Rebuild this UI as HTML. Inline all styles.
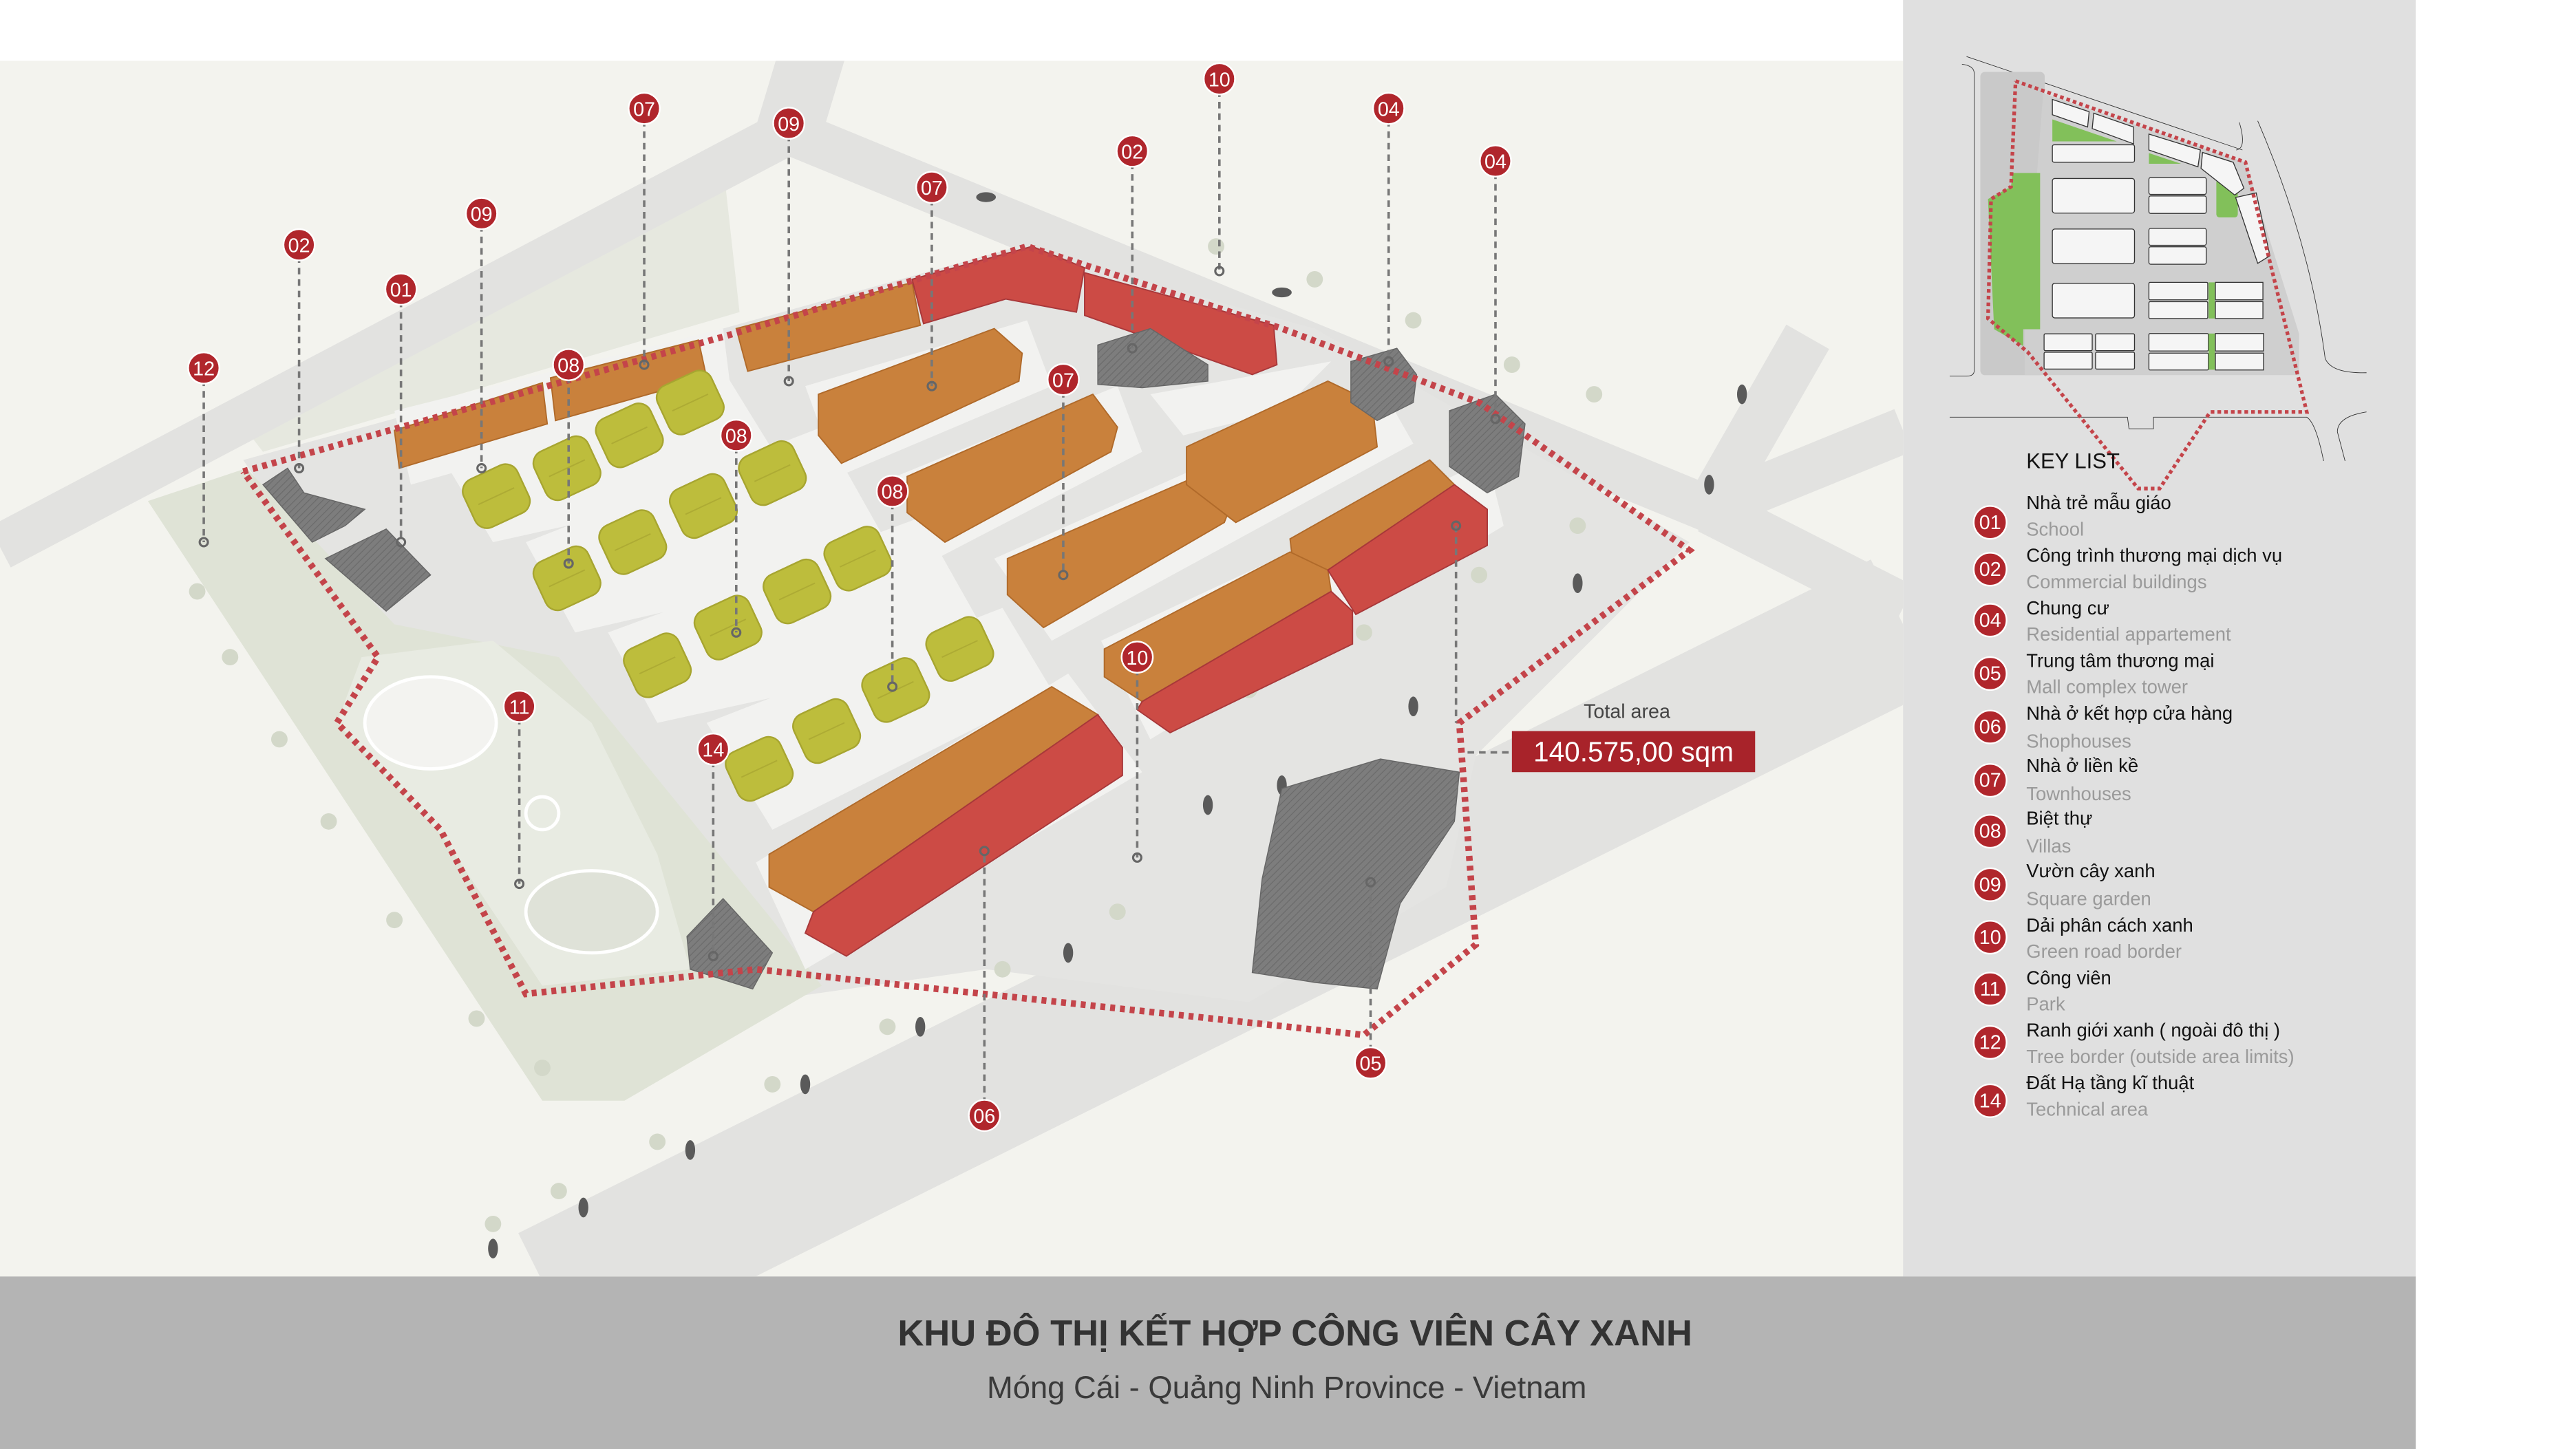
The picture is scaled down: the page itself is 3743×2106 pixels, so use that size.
<!DOCTYPE html>
<html><head><meta charset="utf-8"><style>
html,body{margin:0;padding:0;background:#fff;}
svg{display:block}
text{font-family:"Liberation Sans","Noto Sans CJK SC",sans-serif}
</style></head><body>
<svg width="3743" height="2106" viewBox="0 0 1567.5 882" preserveAspectRatio="none" xmlns="http://www.w3.org/2000/svg">
<defs>
<pattern id="hatch" width="3" height="3" patternUnits="userSpaceOnUse" patternTransform="rotate(45)"><rect width="3" height="3" fill="#7d7d7d"/><line x1="0" y1="0" x2="0" y2="3" stroke="#6a6a6a" stroke-width="1"/></pattern>
<g id="villa"><rect x="-18" y="-16" width="36" height="32" rx="8" fill="#bdbd3c" stroke="#a7a530" stroke-width="1"/><line x1="-12" y1="0" x2="12" y2="0" stroke="#adab34" stroke-width="0.8"/></g>
<clipPath id="mapclip"><rect x="0" y="37" width="1158" height="740"/></clipPath>
</defs>
<rect x="0" y="0" width="1567.5" height="882" fill="#fff"/>
<rect x="0" y="37" width="1158" height="740" fill="#f3f3ee"/>
<rect x="1158" y="0" width="312" height="777" fill="#e0e0e0"/>
<rect x="0" y="777" width="1470" height="105" fill="#b4b4b4"/>

<g clip-path="url(#mapclip)">
<polygon points="150,262 440,100 450,190 160,275" fill="#e6e8df"/>
<g fill="none" stroke="#e2e2e0" stroke-linejoin="round">
<polyline points="0,333 480,80 1040,310 1158,262" stroke-width="28"/>
<polyline points="480,80 495,30" stroke-width="40"/>
<polyline points="1040,310 1100,205" stroke-width="30"/>
<polyline points="1040,310 1158,370" stroke-width="30"/>
<polyline points="335,790 1158,380" stroke-width="88"/>
</g>
<polygon points="148,280 440,200 620,150 800,200 1028,330 898,460 880,540 760,610 600,590 460,610 320,610 265,505 205,440 230,400" fill="#e4e4e2"/>
<polygon points="90,305 150,285 240,380 340,400 470,560 500,600 380,670 330,670" fill="#dfe3d6"/>
<polygon points="220,400 300,390 360,440 400,520 420,590 330,600 270,510 205,440" fill="#e8ebe2"/>
<ellipse cx="262" cy="440" rx="40" ry="28" fill="#f3f3f0" stroke="#fff" stroke-width="2"/>
<ellipse cx="360" cy="555" rx="40" ry="25" fill="#dfe2d8" stroke="#fff" stroke-width="2"/>
<circle cx="330" cy="495" r="10" fill="none" stroke="#fff" stroke-width="2"/>
<g fill="#f2f2f0">
<polygon points="240,250 440,200 445,240 250,295"/>
<polygon points="270,280 440,225 480,290 300,330"/>
<polygon points="320,330 500,260 545,340 350,385"/>
<polygon points="370,385 560,315 605,395 400,440"/>
<polygon points="430,440 610,370 640,420 470,505"/>
<polygon points="490,235 625,195 640,235 510,290"/>
<polygon points="545,290 680,235 695,275 570,340"/>
<polygon points="605,340 840,235 860,270 640,390"/>
<polygon points="670,390 905,280 915,320 700,450"/>
<polygon points="460,525 650,410 695,470 490,590"/>
<polygon points="700,240 810,220 780,250 720,265"/>
</g>
<g fill="#d3d8c9">
<circle cx="300" cy="745" r="5"/><circle cx="340" cy="725" r="5"/><circle cx="400" cy="695" r="5"/><circle cx="470" cy="660" r="5"/><circle cx="540" cy="625" r="5"/><circle cx="610" cy="590" r="5"/><circle cx="680" cy="555" r="5"/><circle cx="760" cy="420" r="5"/><circle cx="830" cy="385" r="5"/><circle cx="900" cy="350" r="5"/><circle cx="960" cy="320" r="5"/>
<circle cx="740" cy="150" r="5"/><circle cx="800" cy="170" r="5"/><circle cx="860" cy="195" r="5"/><circle cx="920" cy="222" r="5"/><circle cx="970" cy="240" r="5"/>
<circle cx="120" cy="360" r="5"/><circle cx="140" cy="400" r="5"/><circle cx="170" cy="450" r="5"/><circle cx="200" cy="500" r="5"/><circle cx="240" cy="560" r="5"/><circle cx="290" cy="620" r="5"/><circle cx="330" cy="650" r="5"/>
</g>
<g fill="#5a5a5a">
<ellipse cx="300" cy="760" rx="3" ry="6"/><ellipse cx="355" cy="735" rx="3" ry="6"/><ellipse cx="420" cy="700" rx="3" ry="6"/><ellipse cx="490" cy="660" rx="3" ry="6"/><ellipse cx="560" cy="625" rx="3" ry="6"/><ellipse cx="650" cy="580" rx="3" ry="6"/><ellipse cx="735" cy="490" rx="3" ry="6"/><ellipse cx="780" cy="478" rx="3" ry="6"/><ellipse cx="860" cy="430" rx="3" ry="6"/><ellipse cx="960" cy="355" rx="3" ry="6"/><ellipse cx="1040" cy="295" rx="3" ry="6"/><ellipse cx="1060" cy="240" rx="3" ry="6"/><ellipse cx="600" cy="120" rx="6" ry="3"/><ellipse cx="780" cy="178" rx="6" ry="3"/>
</g>
</g>

<g stroke="#b06a2a" stroke-width="0.8">
<polygon points="240,262 330,233 333,258 243,285" fill="#c9813c"/>
<polygon points="335,230 425,207 430,230 338,256" fill="#c9813c"/>
<polygon points="448,200 555,172 560,198 455,226" fill="#c9813c"/>
<polygon points="498,240 605,200 622,215 620,232 512,282 498,265" fill="#c9813c"/>
<polygon points="552,290 665,240 680,260 676,275 575,330 552,312" fill="#c9813c"/>
<polygon points="613,340 735,287 750,305 745,318 635,382 613,362" fill="#c9813c"/>
<polygon points="722,272 808,232 835,245 838,272 752,318 722,295" fill="#c9813c"/>
<polygon points="785,328 870,280 885,295 808,347 787,345" fill="#c9813c"/>
<polygon points="672,395 785,336 808,347 810,360 695,427 672,412" fill="#c9813c"/>
<polygon points="468,520 640,418 668,435 495,555 468,540" fill="#c9813c"/>
</g>
<g stroke="#a8383a" stroke-width="0.8" fill="#cc4b45">
<polygon points="555,170 628,150 660,163 655,190 612,182 562,197"/>
<polygon points="660,166 775,198 777,222 762,228 660,192"/>
<polygon points="808,347 885,295 905,310 905,332 825,374"/>
<polygon points="695,427 810,360 823,372 823,392 712,446 692,432"/>
<polygon points="495,555 668,435 683,455 683,472 515,582 490,568"/>
</g>
<g fill="url(#hatch)" stroke="#666" stroke-width="0.6">
<polygon points="668,210 700,200 735,222 735,232 695,236 668,234"/>
<polygon points="822,220 850,212 862,228 860,245 838,256 822,245"/>
<polygon points="882,250 910,240 928,258 924,290 905,300 882,284"/>
<polygon points="780,480 840,462 888,470 885,500 852,550 838,602 800,598 762,592 768,535"/>
<polygon points="198,340 235,322 262,350 235,372"/>
<polygon points="160,295 175,285 185,300 222,310 210,320 190,330"/>
<polygon points="418,570 440,547 470,580 458,602 420,590"/>
</g>
<g>
<use href="#villa" transform="translate(302,302) rotate(-25)"/>
<use href="#villa" transform="translate(345,285) rotate(-25)"/>
<use href="#villa" transform="translate(383,265) rotate(-25)"/>
<use href="#villa" transform="translate(420,245) rotate(-25)"/>
<use href="#villa" transform="translate(345,352) rotate(-25)"/>
<use href="#villa" transform="translate(385,330) rotate(-25)"/>
<use href="#villa" transform="translate(428,308) rotate(-25)"/>
<use href="#villa" transform="translate(470,288) rotate(-25)"/>
<use href="#villa" transform="translate(400,405) rotate(-25)"/>
<use href="#villa" transform="translate(443,382) rotate(-25)"/>
<use href="#villa" transform="translate(485,360) rotate(-25)"/>
<use href="#villa" transform="translate(522,340) rotate(-25)"/>
<use href="#villa" transform="translate(462,468) rotate(-25)"/>
<use href="#villa" transform="translate(503,445) rotate(-25)"/>
<use href="#villa" transform="translate(545,420) rotate(-25)"/>
<use href="#villa" transform="translate(584,395) rotate(-25)"/>
</g>
<polyline points="148,287 440,205 625,150 780,200 900,245 1028,335 888,440 898,575 830,630 460,590 320,605 268,505 205,440 230,400 148,287" fill="none" stroke="#c4444a" stroke-width="4" stroke-dasharray="3,3"/>

<g stroke="#777" stroke-width="1.5" stroke-dasharray="4,3" fill="none">
<line x1="392" y1="66" x2="392" y2="222"/><line x1="480" y1="75" x2="480" y2="232"/>
<line x1="742" y1="48" x2="742" y2="165"/><line x1="845" y1="66" x2="845" y2="220"/>
<line x1="910" y1="98" x2="910" y2="255"/><line x1="689" y1="92" x2="689" y2="212"/>
<line x1="567" y1="114" x2="567" y2="235"/><line x1="293" y1="130" x2="293" y2="285"/>
<line x1="182" y1="149" x2="182" y2="285"/><line x1="244" y1="176" x2="244" y2="330"/>
<line x1="124" y1="224" x2="124" y2="330"/><line x1="346" y1="222" x2="346" y2="343"/>
<line x1="448" y1="265" x2="448" y2="385"/><line x1="647" y1="231" x2="647" y2="350"/>
<line x1="543" y1="299" x2="543" y2="418"/><line x1="316" y1="430" x2="316" y2="538"/>
<line x1="434" y1="456" x2="434" y2="582"/><line x1="692" y1="400" x2="692" y2="522"/>
<line x1="599" y1="679" x2="599" y2="518"/><line x1="834" y1="647" x2="834" y2="537"/>
<line x1="886" y1="320" x2="886" y2="440"/><line x1="893" y1="458" x2="920" y2="458"/>
</g>
<g fill="none" stroke="#666" stroke-width="1.3">
<circle cx="392" cy="222" r="2.5"/><circle cx="480" cy="232" r="2.5"/><circle cx="742" cy="165" r="2.5"/><circle cx="845" cy="220" r="2.5"/><circle cx="910" cy="255" r="2.5"/><circle cx="689" cy="212" r="2.5"/><circle cx="567" cy="235" r="2.5"/><circle cx="293" cy="285" r="2.5"/><circle cx="182" cy="285" r="2.5"/><circle cx="244" cy="330" r="2.5"/><circle cx="124" cy="330" r="2.5"/><circle cx="346" cy="343" r="2.5"/><circle cx="448" cy="385" r="2.5"/><circle cx="647" cy="350" r="2.5"/><circle cx="543" cy="418" r="2.5"/><circle cx="316" cy="538" r="2.5"/><circle cx="434" cy="582" r="2.5"/><circle cx="692" cy="522" r="2.5"/><circle cx="599" cy="518" r="2.5"/><circle cx="834" cy="537" r="2.5"/><circle cx="886" cy="320" r="2.5"/>
</g>
<g font-size="12" fill="#fff" text-anchor="middle">
<g><circle cx="392" cy="66" r="9.5" fill="#b0262c" stroke="#fff" stroke-width="1"/><text x="392" y="70.5">07</text></g>
<g><circle cx="480" cy="75" r="9.5" fill="#b0262c" stroke="#fff" stroke-width="1"/><text x="480" y="79.5">09</text></g>
<g><circle cx="742" cy="48" r="9.5" fill="#b0262c" stroke="#fff" stroke-width="1"/><text x="742" y="52.5">10</text></g>
<g><circle cx="845" cy="66" r="9.5" fill="#b0262c" stroke="#fff" stroke-width="1"/><text x="845" y="70.5">04</text></g>
<g><circle cx="910" cy="98" r="9.5" fill="#b0262c" stroke="#fff" stroke-width="1"/><text x="910" y="102.5">04</text></g>
<g><circle cx="689" cy="92" r="9.5" fill="#b0262c" stroke="#fff" stroke-width="1"/><text x="689" y="96.5">02</text></g>
<g><circle cx="567" cy="114" r="9.5" fill="#b0262c" stroke="#fff" stroke-width="1"/><text x="567" y="118.5">07</text></g>
<g><circle cx="293" cy="130" r="9.5" fill="#b0262c" stroke="#fff" stroke-width="1"/><text x="293" y="134.5">09</text></g>
<g><circle cx="182" cy="149" r="9.5" fill="#b0262c" stroke="#fff" stroke-width="1"/><text x="182" y="153.5">02</text></g>
<g><circle cx="244" cy="176" r="9.5" fill="#b0262c" stroke="#fff" stroke-width="1"/><text x="244" y="180.5">01</text></g>
<g><circle cx="124" cy="224" r="9.5" fill="#b0262c" stroke="#fff" stroke-width="1"/><text x="124" y="228.5">12</text></g>
<g><circle cx="346" cy="222" r="9.5" fill="#b0262c" stroke="#fff" stroke-width="1"/><text x="346" y="226.5">08</text></g>
<g><circle cx="448" cy="265" r="9.5" fill="#b0262c" stroke="#fff" stroke-width="1"/><text x="448" y="269.5">08</text></g>
<g><circle cx="647" cy="231" r="9.5" fill="#b0262c" stroke="#fff" stroke-width="1"/><text x="647" y="235.5">07</text></g>
<g><circle cx="543" cy="299" r="9.5" fill="#b0262c" stroke="#fff" stroke-width="1"/><text x="543" y="303.5">08</text></g>
<g><circle cx="316" cy="430" r="9.5" fill="#b0262c" stroke="#fff" stroke-width="1"/><text x="316" y="434.5">11</text></g>
<g><circle cx="434" cy="456" r="9.5" fill="#b0262c" stroke="#fff" stroke-width="1"/><text x="434" y="460.5">14</text></g>
<g><circle cx="692" cy="400" r="9.5" fill="#b0262c" stroke="#fff" stroke-width="1"/><text x="692" y="404.5">10</text></g>
<g><circle cx="599" cy="679" r="9.5" fill="#b0262c" stroke="#fff" stroke-width="1"/><text x="599" y="683.5">06</text></g>
<g><circle cx="834" cy="647" r="9.5" fill="#b0262c" stroke="#fff" stroke-width="1"/><text x="834" y="651.5">05</text></g>
</g>
<text x="990" y="437" font-size="12" fill="#444" text-anchor="middle">Total area</text>
<rect x="920" y="445" width="148" height="25" fill="#a8232a"/>
<text x="994" y="463.5" font-size="17" fill="#fff" text-anchor="middle">140.575,00 sqm</text>

<g transform="translate(1172.4,16.7) scale(0.1865)">
<polyline points="130,95 1030,400" stroke="#333" stroke-width="2" fill="none"/>
<path d="M115,120 Q155,125 155,150 L155,1120 Q155,1138 130,1138 L75,1138" stroke="#333" stroke-width="2" fill="none"/>
<path d="M75,1272 L655,1272 L660,1310 L740,1310 L740,1272 L1240,1272 Q1270,1290 1295,1415" stroke="#333" stroke-width="2" fill="none"/>
<path d="M1080,305 Q1250,700 1300,1080 Q1320,1130 1435,1127" stroke="#333" stroke-width="2" fill="none"/>
<path d="M1020,310 Q1045,395 1010,400" stroke="#333" stroke-width="2" fill="none"/>
<path d="M1435,1255 Q1340,1270 1340,1320 L1365,1415" stroke="#333" stroke-width="2" fill="none"/>
<rect x="175" y="145" width="210" height="990" rx="15" fill="#c9c9c9"/>
<polygon points="380,215 1040,440 1215,1000 1215,1135 320,1135 320,990" fill="#cfcfcf"/>
<polygon points="200,560 275,520 280,475 370,475 370,985 315,985 315,1040 220,985" fill="#82c05a"/>
<polygon points="410,300 620,372 410,372" fill="#82c05a"/>
<polygon points="725,410 830,445 725,445" fill="#82c05a"/>
<rect x="945" y="495" width="70" height="125" rx="10" fill="#82c05a"/>
<g fill="#f5f5f5" stroke="#333" stroke-width="3">
<polygon points="410,235 530,275 525,325 410,285"/><polygon points="545,280 675,325 675,380 540,330"/>
<rect x="410" y="383" width="268" height="57" rx="6"/>
<rect x="410" y="493" width="268" height="113" rx="8"/><rect x="410" y="658" width="268" height="113" rx="8"/><rect x="410" y="835" width="268" height="113" rx="8"/>
<polygon points="725,348 893,400 885,455 725,400"/><polygon points="900,408 1000,440 1035,525 1005,547 895,460"/>
<polygon points="1008,555 1075,540 1120,745 1080,770"/>
<rect x="725" y="490" width="187" height="55" rx="6"/><rect x="725" y="550" width="187" height="57" rx="6"/>
<rect x="725" y="656" width="187" height="55" rx="6"/><rect x="725" y="716" width="187" height="57" rx="6"/>
<rect x="725" y="832" width="192" height="57" rx="4"/><rect x="725" y="895" width="192" height="55" rx="4"/>
<rect x="942" y="832" width="155" height="57"/><rect x="942" y="895" width="155" height="55"/>
<rect x="725" y="999" width="194" height="57" rx="4"/><rect x="725" y="1063" width="194" height="55" rx="4"/>
<rect x="942" y="999" width="157" height="57"/><rect x="942" y="1063" width="157" height="55"/>
<rect x="383" y="1000" width="157" height="55" rx="4"/><rect x="383" y="1060" width="157" height="55" rx="4"/>
<rect x="551" y="1000" width="127" height="55" rx="4"/><rect x="551" y="1060" width="127" height="55" rx="4"/>
</g>
<rect x="920" y="832" width="20" height="118" fill="#82c05a"/><rect x="920" y="999" width="20" height="118" fill="#82c05a"/>
<polyline points="290,175 1040,440 1240,1255 925,1255 760,1505 690,1505 330,1060 200,950 210,560 275,520 290,175" fill="none" stroke="#c4444a" stroke-width="12" stroke-dasharray="12,10"/>
</g>

<text x="1233" y="285" font-size="13" fill="#111">KEY LIST</text>
<g font-size="11.5">
<g fill="#b0262c" stroke="#fff" stroke-width="1">
<circle cx="1211" cy="318" r="10"/><circle cx="1211" cy="346.5" r="10"/><circle cx="1211" cy="377.5" r="10"/><circle cx="1211" cy="410" r="10"/><circle cx="1211" cy="442.5" r="10"/><circle cx="1211" cy="475" r="10"/><circle cx="1211" cy="506" r="10"/><circle cx="1211" cy="538.5" r="10"/><circle cx="1211" cy="570.5" r="10"/><circle cx="1211" cy="602" r="10"/><circle cx="1211" cy="634.5" r="10"/><circle cx="1211" cy="670" r="10"/>
</g>
<g fill="#fff" font-size="12" text-anchor="middle">
<text x="1211" y="322">01</text><text x="1211" y="350.5">02</text><text x="1211" y="381.5">04</text><text x="1211" y="414">05</text><text x="1211" y="446.5">06</text><text x="1211" y="479">07</text><text x="1211" y="510">08</text><text x="1211" y="542.5">09</text><text x="1211" y="574.5">10</text><text x="1211" y="606">11</text><text x="1211" y="638.5">12</text><text x="1211" y="674">14</text>
</g>
<g fill="#111">
<text x="1233" y="310">Nhà trẻ mẫu giáo</text>
<text x="1233" y="342">Công trình thương mại dịch vụ</text>
<text x="1233" y="374">Chung cư</text>
<text x="1233" y="406">Trung tâm thương mại</text>
<text x="1233" y="438">Nhà ở kết hợp cửa hàng</text>
<text x="1233" y="470">Nhà ở liền kề</text>
<text x="1233" y="502">Biệt thự</text>
<text x="1233" y="534">Vườn cây xanh</text>
<text x="1233" y="567">Dải phân cách xanh</text>
<text x="1233" y="599">Công viên</text>
<text x="1233" y="631">Ranh giới xanh ( ngoài đô thị )</text>
<text x="1233" y="663">Đất Hạ tầng kĩ thuật</text>
</g>
<g fill="#9a9a9a">
<text x="1233" y="326">School</text>
<text x="1233" y="358">Commercial buildings</text>
<text x="1233" y="390">Residential appartement</text>
<text x="1233" y="422">Mall complex tower</text>
<text x="1233" y="455">Shophouses</text>
<text x="1233" y="487">Townhouses</text>
<text x="1233" y="519">Villas</text>
<text x="1233" y="551">Square garden</text>
<text x="1233" y="583">Green road border</text>
<text x="1233" y="615">Park</text>
<text x="1233" y="647">Tree border (outside area limits)</text>
<text x="1233" y="679">Technical area</text>
</g>
</g>

<text x="788" y="819" font-size="22" font-weight="bold" fill="#333" text-anchor="middle">KHU ĐÔ THỊ KẾT HỢP CÔNG VIÊN CÂY XANH</text>
<text x="783" y="851" font-size="19" fill="#3a3a3a" text-anchor="middle">Móng Cái - Quảng Ninh Province - Vietnam</text>
</svg>
</body></html>
